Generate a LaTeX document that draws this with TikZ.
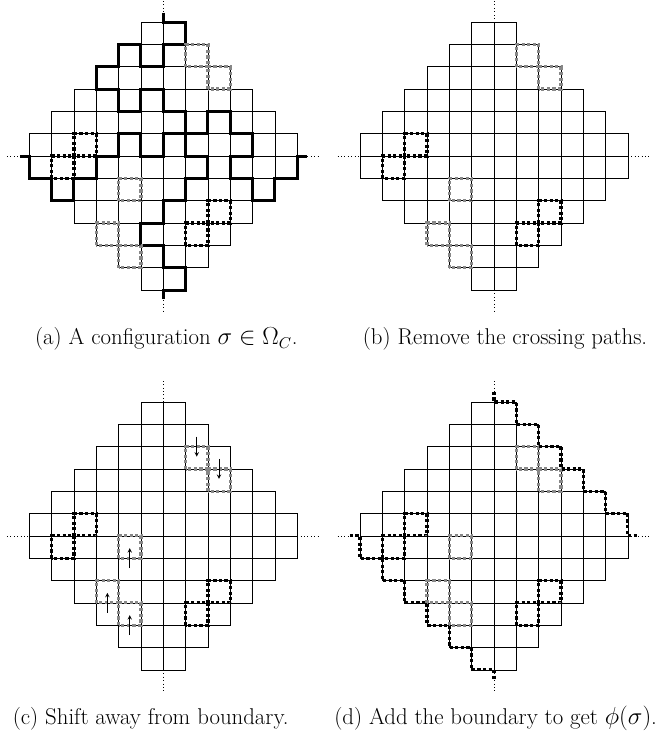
\documentclass[tikz,border=0pt]{standalone}
\usepackage{amsmath}
\usepackage{amssymb}
\usepackage{tikz}
\usetikzlibrary{arrows}

% Aztec diamond of order 6, with the two dotted axes
\newcommand{\aztecgrid}{%
  \foreach \r/\w in {5/1,4/2,3/3,2/4,1/5,0/6,-1/6,-2/5,-3/4,-4/3,-5/2,-6/1}{
    \draw[cell] ({-\w},\r) rectangle (\w,{\r+1});
    \foreach \i in {-\w,...,\w}
      \draw[cell] (\i,\r) -- (\i,{\r+1});
  }
  \draw[axis] (0,6) -- (0,7) (0,-6) -- (0,-7) (-7,0) -- (-6,0) (6,0) -- (7,0);
}
\newcommand{\blackloops}{%
  \foreach \x/\y in {-4/0,-5/-1,2/-3,1/-4}
    \draw[blackloop] (\x,\y) rectangle ++(1,1);
}

\begin{document}
\begin{tikzpicture}[
  x=0.55cm, y=0.55cm,
  cell/.style={draw=black, line width=0.4pt},
  axis/.style={dotted, line width=0.4pt},
  crosspath/.style={line width=2.1pt},
  blackloop/.style={line width=2.3pt, dash pattern=on 2.2pt off 1.7pt},
  grayloop/.style={blackloop, draw=black!47},
  shiftarrow/.style={->, >=stealth, line width=0.4pt},
  subcap/.style={anchor=base, inner sep=0pt, font=\fontsize{16}{19}\selectfont}
]
  \useasboundingbox (0,0) rectangle (30.09,-32.83);

  % (a)
  \begin{scope}[shift={(7.31,-6.99)}]
    \aztecgrid
    \draw[crosspath] (0,6.42) -- (0,6) -- (1,6) -- (1,5) -- (0,5) -- (0,4)
      -- (-1,4) -- (-1,5) -- (-2,5) -- (-2,4) -- (-3,4) -- (-3,3) -- (-2,3)
      -- (-2,2) -- (-1,2) -- (-1,3) -- (0,3) -- (0,2) -- (1,2) -- (1,0)
      -- (2,0) -- (2,-1) -- (1,-1) -- (1,-2) -- (0,-2) -- (0,-3) -- (-1,-3)
      -- (-1,-4) -- (0,-4) -- (0,-5) -- (1,-5) -- (1,-6) -- (0,-6) -- (0,-6.42);
    \draw[crosspath] (-6.42,0) -- (-6,0) -- (-6,-1) -- (-5,-1) -- (-5,-2)
      -- (-4,-2) -- (-4,-1) -- (-3,-1) -- (-3,0) -- (-2,0) -- (-2,1) -- (-1,1)
      -- (-1,0) -- (0,0) -- (0,1) -- (2,1) -- (2,2) -- (3,2) -- (3,1) -- (4,1)
      -- (4,0) -- (3,0) -- (3,-1) -- (4,-1) -- (4,-2) -- (5,-2) -- (5,-1)
      -- (6,-1) -- (6,0) -- (6.42,0);
    \blackloops
    \foreach \x/\y in {1/4,2/3,-2/-2,-3/-4,-2/-5}
      \draw[grayloop] (\x,\y) rectangle ++(1,1);
  \end{scope}

  % (b)
  \begin{scope}[shift={(22.12,-6.99)}]
    \aztecgrid
    \blackloops
    \foreach \x/\y in {1/4,2/3,-2/-2,-3/-4,-2/-5}
      \draw[grayloop] (\x,\y) rectangle ++(1,1);
  \end{scope}

  % (c)
  \begin{scope}[shift={(7.31,-24.0)}]
    \aztecgrid
    \blackloops
    \foreach \x/\y in {1/3,2/2,-2/-1,-3/-3,-2/-4}
      \draw[grayloop] (\x,\y) rectangle ++(1,1);
    \draw[shiftarrow] (1.5,4.45) -- (1.5,3.55);
    \draw[shiftarrow] (2.5,3.45) -- (2.5,2.55);
    \draw[shiftarrow] (-1.5,-1.45) -- (-1.5,-0.55);
    \draw[shiftarrow] (-2.5,-3.45) -- (-2.5,-2.55);
    \draw[shiftarrow] (-1.5,-4.45) -- (-1.5,-3.55);
  \end{scope}

  % (d)
  \begin{scope}[shift={(22.12,-24.0)}]
    \aztecgrid
    \blackloops
    \foreach \x/\y in {1/3,2/2,-2/-1,-3/-3,-2/-4}
      \draw[grayloop] (\x,\y) rectangle ++(1,1);
    \draw[blackloop] (0,6.45) -- (0,6) -- (1,6) -- (1,5) -- (2,5) -- (2,4)
      -- (3,4) -- (3,3) -- (4,3) -- (4,2) -- (5,2) -- (5,1) -- (6,1) -- (6,0)
      -- (6.45,0);
    \draw[blackloop] (-6.45,0) -- (-6,0) -- (-6,-1) -- (-5,-1) -- (-5,-2)
      -- (-4,-2) -- (-4,-3) -- (-3,-3) -- (-3,-4) -- (-2,-4) -- (-2,-5)
      -- (-1,-5) -- (-1,-6) -- (0,-6) -- (0,-6.45);
  \end{scope}

  \node[subcap] (capa) at (7.45,-15.45) {(a) A configuration $\sigma\in\Omega_C$.};
  \node[subcap] (capb) at (22.62,-15.45) {(b) Remove the crossing paths.};
  \node[subcap] (capc) at (6.75,-32.47) {(c) Shift away from boundary.};
  \node[subcap] (capd) at (22.2,-32.47) {(d) Add the boundary to get $\phi(\sigma)$.};
\end{tikzpicture}
\end{document}
